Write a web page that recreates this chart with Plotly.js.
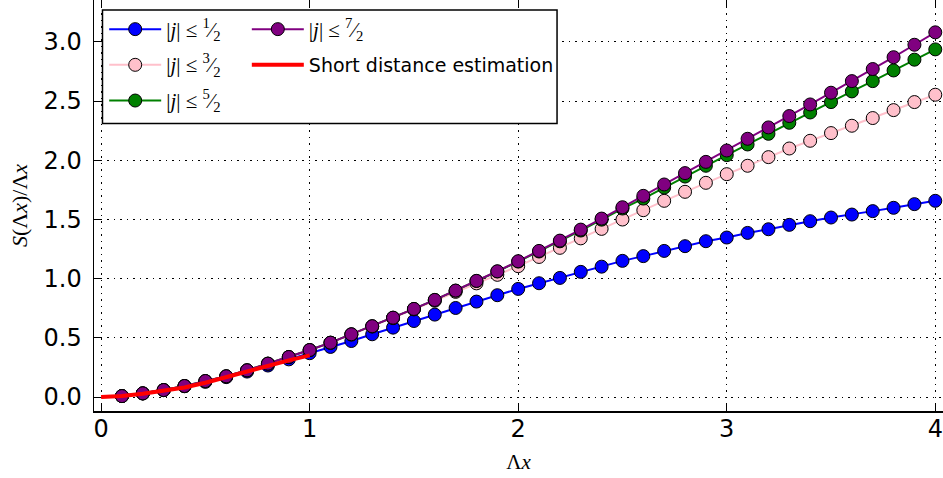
<!DOCTYPE html>
<html>
<head>
<meta charset="utf-8">
<script src="https://cdn.plot.ly/plotly-3.0.1.min.js"></script>
<style>html,body{margin:0;padding:0;background:#fff;}#chart{width:943px;height:478px;}</style>
</head>
<body>
<div id="chart"></div>
<script>
// x positions (Λx)
const xs = [0.1,0.2,0.3,0.4,0.5,0.6,0.7,0.8,0.9,1.0,1.1,1.2,1.3,1.4,1.5,1.6,1.7,1.8,1.9,2.0,
            2.1,2.2,2.3,2.4,2.5,2.6,2.7,2.8,2.9,3.0,3.1,3.2,3.3,3.4,3.5,3.6,3.7,3.8,3.9,4.0];
// |j| <= 1/2
const jHalf = [0.008,0.030,0.058,0.091,0.128,0.168,0.215,0.266,0.318,0.370,0.423,0.473,0.530,0.586,0.642,0.696,0.752,0.806,0.860,0.913,
               0.961,1.006,1.057,1.101,1.150,1.190,1.234,1.274,1.316,1.347,1.386,1.417,1.454,1.485,1.516,1.541,1.570,1.598,1.629,1.657];
// |j| <= 3/2
const jThreeHalf = [0.008,0.031,0.059,0.093,0.134,0.175,0.225,0.281,0.337,0.395,0.457,0.527,0.595,0.666,0.740,0.813,0.888,0.960,1.032,1.105,
                    1.183,1.260,1.340,1.420,1.499,1.578,1.657,1.733,1.809,1.882,1.953,2.026,2.099,2.164,2.229,2.291,2.356,2.423,2.491,2.553];
// |j| <= 5/2
const jFiveHalf = [0.008,0.031,0.059,0.093,0.135,0.175,0.226,0.282,0.338,0.397,0.459,0.530,0.598,0.670,0.744,0.820,0.898,0.980,1.060,1.144,
                   1.229,1.315,1.406,1.498,1.592,1.676,1.769,1.862,1.953,2.043,2.133,2.223,2.316,2.403,2.491,2.581,2.668,2.758,2.849,2.936];
// |j| <= 7/2
const jSevenHalf = [0.008,0.031,0.059,0.093,0.135,0.175,0.226,0.282,0.338,0.397,0.459,0.530,0.598,0.670,0.744,0.820,0.899,0.981,1.062,1.147,
                    1.234,1.321,1.414,1.507,1.603,1.699,1.795,1.891,1.986,2.082,2.181,2.277,2.373,2.471,2.570,2.668,2.770,2.870,2.975,3.080];
// short distance estimation
const xShort = [0,0.1,0.2,0.3,0.4,0.5,0.6,0.7,0.8,0.9,1.0];
const yShort = [0,0.008,0.028,0.050,0.080,0.121,0.170,0.218,0.262,0.310,0.352];

const labels = {
  half: '|<i>j</i>| ≤ <sup>1</sup>⁄<sub>2</sub>',
  three: '|<i>j</i>| ≤ <sup>3</sup>⁄<sub>2</sub>',
  five: '|<i>j</i>| ≤ <sup>5</sup>⁄<sub>2</sub>',
  seven: '|<i>j</i>| ≤ <sup>7</sup>⁄<sub>2</sub>',
  shortEst: 'Short distance estimation'
};
const serif = "<span style=\"font-family:'Liberation Serif';font-size:21px\">";

function series(y, color, name, legend, group) {
  return {
    x: xs, y: y, type: 'scatter', mode: 'lines+markers',
    name: serif + name + '</span>', legend: legend, legendgroup: group,
    line: {color: color, width: 2},
    marker: {color: color, size: 13, line: {color: '#000', width: 1}}
  };
}

const traces = [
  series(jHalf, '#0000ff', labels.half, 'legend', 'a'),
  series(jThreeHalf, '#ffc0cb', labels.three, 'legend', 'b'),
  series(jFiveHalf, '#008000', labels.five, 'legend', 'c'),
  series(jSevenHalf, '#800080', labels.seven, 'legend2', 'd'),
  {x: xShort, y: yShort, type: 'scatter', mode: 'lines', name: labels.shortEst,
   legend: 'legend2', legendgroup: 'e', line: {color: '#ff0000', width: 4}}
];

const tickFont = {family: 'DejaVu Sans', size: 24, color: '#000'};
const legFont = {family: 'DejaVu Sans', size: 19, color: '#000'};

const layout = {
  width: 943, height: 478,
  margin: {l: 94, r: 0, t: 0, b: 67},
  paper_bgcolor: '#fff', plot_bgcolor: '#fff',
  showlegend: true,
  xaxis: {
    range: [-0.034, 4.037], tickvals: [0,1,2,3,4], ticktext: ['0','1','2','3','4'],
    showline: true, linecolor: '#000', linewidth: 1.5, mirror: 'ticks',
    ticks: 'inside', ticklen: 7, tickwidth: 1, tickcolor: '#000',
    showgrid: true, gridcolor: '#000', gridwidth: 1, griddash: '1.5px,5px',
    zeroline: false, tickfont: tickFont, ticklabelstandoff: -4,
    title: {text: 'Λ<i>x</i>', font: {family: 'Liberation Serif', size: 21, color: '#000'}, standoff: 12}
  },
  yaxis: {
    range: [-0.118, 3.353], tickvals: [0,0.5,1,1.5,2,2.5,3],
    ticktext: ['0.0','0.5','1.0','1.5','2.0','2.5','3.0'],
    showline: true, linecolor: '#000', linewidth: 1.5, mirror: false,
    ticks: 'inside', ticklen: 7, tickwidth: 1, tickcolor: '#000',
    showgrid: true, gridcolor: '#000', gridwidth: 1, griddash: '1.5px,5px',
    zeroline: false, tickfont: tickFont, ticklabelstandoff: 6,
    title: {text: '<i>S</i>(Λ<i>x</i>)/Λ<i>x</i>', font: {family: 'Liberation Serif', size: 22, color: '#000'}, standoff: 10}
  },
  legend: {x: 0.012, y: 0.975, xanchor: 'left', yanchor: 'top', bgcolor: 'rgba(0,0,0,0)',
           borderwidth: 0, font: legFont, tracegroupgap: 8, itemwidth: 52},
  legend2: {x: 0.18, y: 0.975, xanchor: 'left', yanchor: 'top', bgcolor: 'rgba(0,0,0,0)',
            borderwidth: 0, font: legFont, tracegroupgap: 8, itemwidth: 52},
  shapes: [{type: 'rect', xref: 'paper', yref: 'paper', x0: 0.010, x1: 0.5454, y0: 0.6995, y1: 0.9757,
            line: {color: '#000', width: 1.5}, fillcolor: '#fff', layer: 'above'}]
};

Plotly.newPlot('chart', traces, layout, {displayModeBar: false, staticPlot: true});
</script>
</body>
</html>
